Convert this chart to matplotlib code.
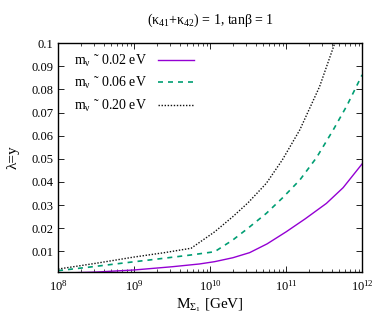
import numpy as np
import matplotlib
matplotlib.use("Agg")
import matplotlib.pyplot as plt
from matplotlib.ticker import LogLocator, NullFormatter, FixedLocator

plt.rcParams["font.family"] = ["Liberation Serif", "DejaVu Serif"]
plt.rcParams["mathtext.fontset"] = "custom"
plt.rcParams["mathtext.rm"] = "Liberation Serif"
plt.rcParams["mathtext.it"] = "Liberation Serif"
plt.rcParams["mathtext.default"] = "regular"

# log10 of M (GeV) and lambda values
logm_002 = [8.0, 8.5, 9.0, 9.5, 9.86, 10.06, 10.3, 10.52, 10.75, 11.0, 11.25, 11.53, 11.75, 12.0]
lam_002 = [0.0005, 0.0010, 0.0019, 0.0033, 0.0045, 0.0055, 0.0072, 0.0094, 0.0132, 0.0184, 0.0240, 0.0307, 0.0375, 0.0478]

logm_006 = [8.0, 8.4, 8.83, 9.3, 9.75, 10.06, 10.3, 10.5, 10.74, 10.95, 11.18, 11.4, 11.62, 11.8, 12.0]
lam_006 = [0.0016, 0.0031, 0.0048, 0.0066, 0.0084, 0.0098, 0.0149, 0.0200, 0.0264, 0.0330, 0.0408, 0.0505, 0.0625, 0.0730, 0.0863]

logm_020 = [8.0, 8.5, 9.0, 9.4, 9.75, 10.06, 10.3, 10.5, 10.74, 10.95, 11.18, 11.44, 11.64, 11.8]
lam_020 = [0.0023, 0.0048, 0.0075, 0.0094, 0.0113, 0.0184, 0.0250, 0.0310, 0.0394, 0.0495, 0.0625, 0.0812, 0.1000, 0.1150]

labels = [r"m$_{ν}$ ˜ 0.02 eV", r"m$_{ν}$ ˜ 0.06 eV", r"m$_{ν}$ ˜ 0.20 eV"]
yticks = [0.01, 0.02, 0.03, 0.04, 0.05, 0.06, 0.07, 0.08, 0.09, 0.1]

fig = plt.figure(figsize=(3.82, 3.27), dpi=100)
ax = fig.add_axes([0.152, 0.168, 0.796, 0.700])

ax.plot(10 ** np.array(logm_002), lam_002, color="#9400d3", lw=1.0, label=labels[0])
ax.plot(10 ** np.array(logm_006), lam_006, color="#009e73", lw=1.2, ls=(0, (3, 3)), label=labels[1])
ax.plot(10 ** np.array(logm_020), lam_020, color="#111111", lw=1.0, ls=(0, (1, 1.2)), label=labels[2])

ax.set_xscale("log")
ax.set_xlim(1e8, 1e12)
ax.set_ylim(0.001, 0.1)
ax.yaxis.set_major_locator(FixedLocator(yticks))
ax.set_yticklabels(["0.01", "0.02", "0.03", "0.04", "0.05", "0.06", "0.07", "0.08", "0.09", "0.1"])
ax.xaxis.set_major_locator(LogLocator(base=10, numticks=10))
ax.xaxis.set_minor_locator(LogLocator(base=10, subs=np.arange(2, 10), numticks=20))
ax.xaxis.set_minor_formatter(NullFormatter())

ax.tick_params(which="both", direction="in", top=True, right=True, labelsize=9)
ax.tick_params(which="major", length=4, width=0.6)
ax.tick_params(which="minor", length=2, width=0.5)
ax.tick_params(axis="x", pad=5)
for s in ax.spines.values():
    s.set_linewidth(1.0)

ax.set_xlabel(r"M$_{Σ_1}$ [GeV]", fontsize=11, labelpad=2)
ax.set_ylabel("λ=y", fontsize=11, labelpad=8)
ax.set_title(r"(κ$_{41}$+κ$_{42}$) = 1, tanβ = 1", fontsize=10, pad=14)

ax.legend(loc="upper left", frameon=False, markerfirst=False, fontsize=10,
          handlelength=2.6, handletextpad=0.8, labelspacing=0.45,
          borderaxespad=0.3, bbox_to_anchor=(0.02, 1.0))

fig.savefig("out.png", dpi=100)
